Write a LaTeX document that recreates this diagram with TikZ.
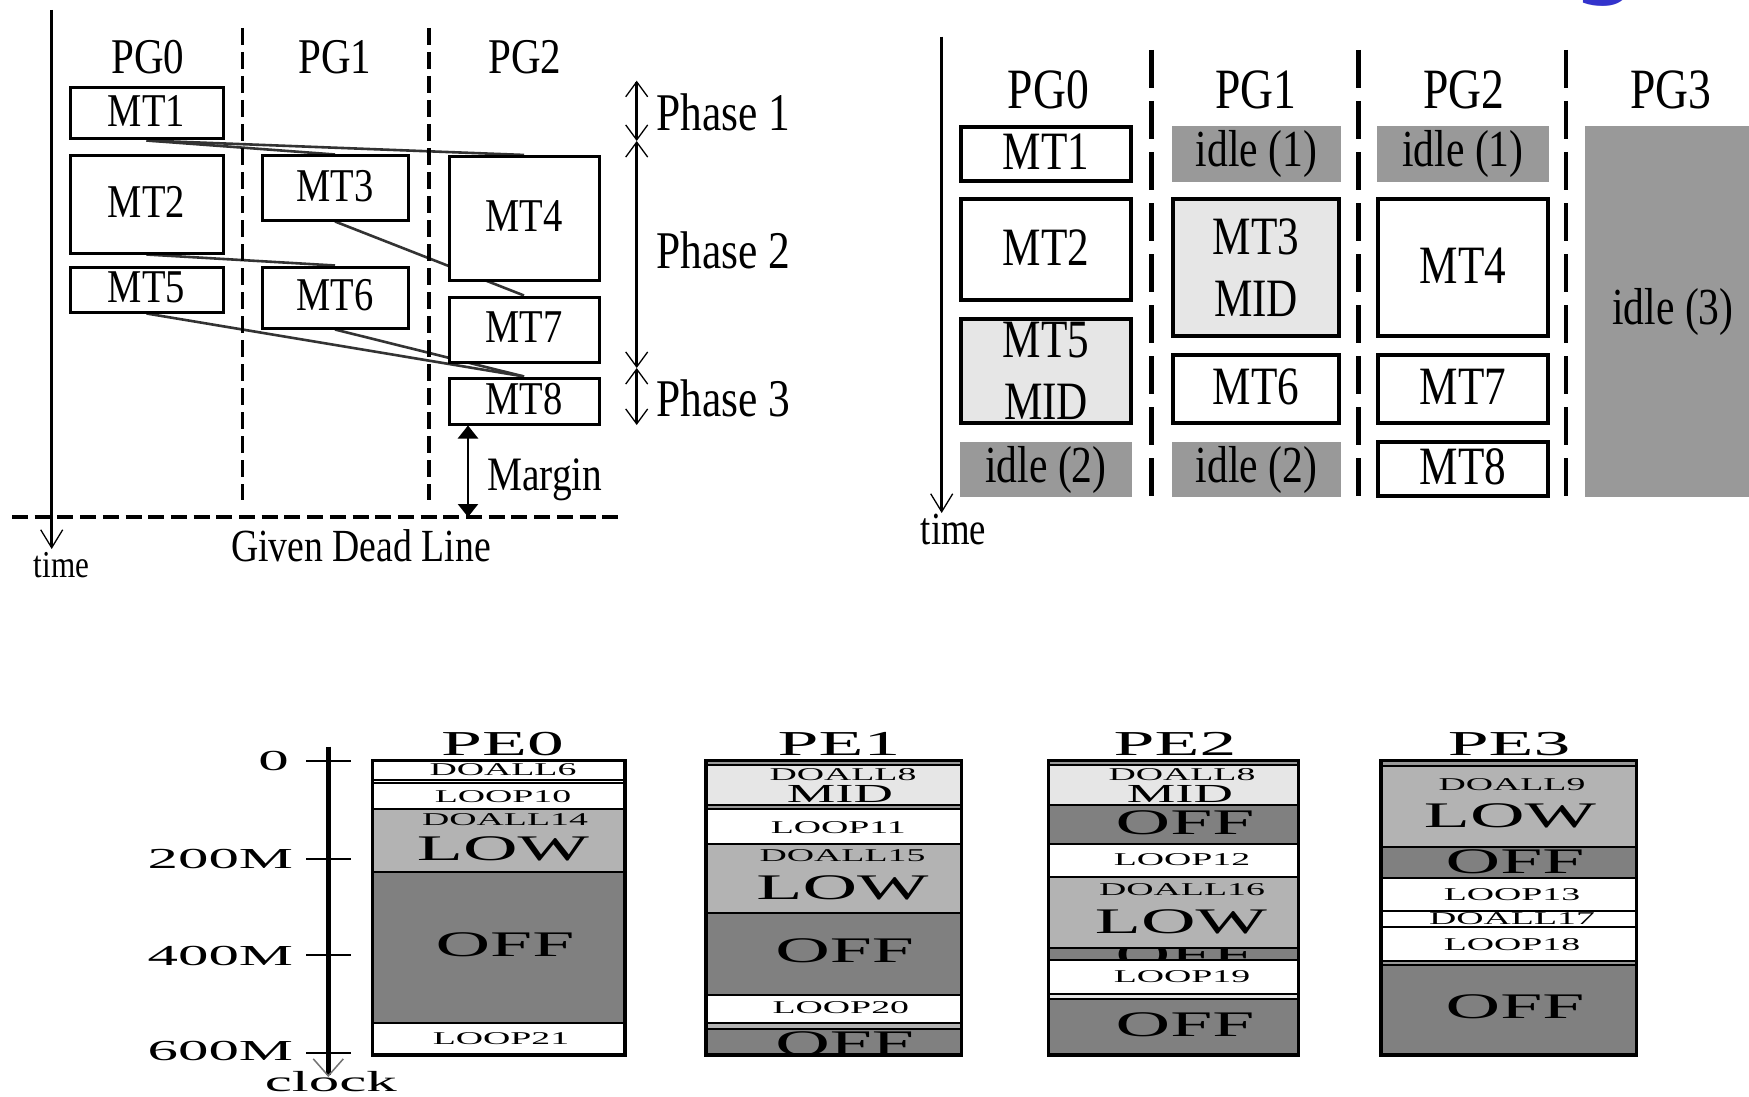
\documentclass[tikz,border=0pt]{standalone}
\usepackage{fontspec}
\setmainfont{Liberation Serif}
\newfontfamily\tlf[FakeStretch=0.82]{Liberation Serif}
\newfontfamily\trf[FakeStretch=0.80]{Liberation Serif}
\newfontfamily\btf[FakeStretch=2.1]{Liberation Serif}
\newfontfamily\gsf{DejaVu Sans}
\usetikzlibrary{arrows.meta,backgrounds}
\definecolor{midc}{HTML}{E6E6E6}
\definecolor{lowc}{HTML}{B3B3B3}
\definecolor{offc}{HTML}{808080}
\definecolor{idlec}{HTML}{999999}
\definecolor{titleblue}{HTML}{3333CC}
\pgfdeclarelayer{bottom}
\pgfsetlayers{bottom,background,main}
\tikzset{
  tlbox/.style={draw, line width=3pt, fill=white, inner sep=0pt, text depth=5pt,
    font=\tlf\fontsize{47}{52}\selectfont},
  tllab/.style={inner sep=0pt, anchor=base, font=\tlf\fontsize{50}{54}\selectfont},
  phlab/.style={inner sep=0pt, anchor=base west, font=\tlf\fontsize{53}{56}\selectfont},
  dep/.style={line width=2.6pt, draw=black!80},
  tlvdash/.style={line width=3.5pt, dash pattern=on 17pt off 7pt},
  deadline/.style={line width=4pt, dash pattern=on 16pt off 6.7pt},
  timearr/.style={line width=2.5pt, -{Straight Barb[length=18pt,width=22pt,line width=1.3pt]}},
  phasearr/.style={line width=2.5pt,
    {Straight Barb[length=15pt,width=22pt,line width=1.3pt]}-{Straight Barb[length=15pt,width=22pt,line width=1.3pt]}},
  marginarr/.style={line width=2.5pt, {Triangle[length=13pt,width=20pt]}-{Triangle[length=13pt,width=20pt]}},
  trbox/.style={draw, line width=3.5pt, fill=white, inner sep=0pt, align=center, text depth=4pt,
    font=\trf\fontsize{54}{62}\selectfont},
  tridle/.style={fill=idlec, inner sep=0pt, font=\trf\fontsize{52}{60}\selectfont},
  trlab/.style={inner sep=0pt, anchor=base, font=\trf\fontsize{57}{60}\selectfont},
  trvdash/.style={line width=4.5pt, dash pattern=on 38pt off 13pt},
  bsmall/.style={inner sep=0pt, font=\btf\fontsize{18}{20}\selectfont},
  bmid/.style={inner sep=0pt, font=\btf\fontsize{26}{28}\selectfont},
  bbig/.style={inner sep=0pt, font=\btf\fontsize{36}{40}\selectfont},
  blab/.style={inner sep=0pt, font=\btf\fontsize{29}{32}\selectfont},
  pelab/.style={inner sep=0pt, anchor=base, font=\btf\fontsize{35}{38}\selectfont},
  segline/.style={line width=2pt},
  colframe/.style={line width=3.3pt},
  clockarr/.style={line width=4.5pt, -{Straight Barb[length=17pt,width=30pt,line width=1.5pt,color=black!55]}},
}
\begin{document}
\begin{tikzpicture}[x=1pt,y=-1pt]
\useasboundingbox (0,0) rectangle (1749,1097);
\begin{pgfonlayer}{bottom}
\fill[white] (0,0) rectangle (1749,1097);
\end{pgfonlayer}

% ---------- partial title glyph ----------
\node[font=\gsf\fontsize{115}{115}\selectfont, text=titleblue, anchor=south, inner sep=0pt] (gfrag) at (1606,7) {g};

% ================= TOP LEFT =================
\coordinate (ta0) at (51.7,10);
\coordinate (ta1) at (51.7,549);
\draw[timearr] (ta0) -- (ta1);
\node[inner sep=0pt, anchor=base, font=\tlf\fontsize{38}{40}\selectfont] (timeL) at (61.5,577) {time};

\coordinate (v1a) at (242.3,28); \coordinate (v1b) at (242.3,500);
\coordinate (v2a) at (429,28);   \coordinate (v2b) at (429,500);
\draw[tlvdash] (v1a) -- (v1b);
\draw[tlvdash] (v2a) -- (v2b);

\node[tllab] (pg0L) at (148,73.3) {PG0};
\node[tllab] (pg1L) at (335,73.3) {PG1};
\node[tllab] (pg2L) at (525,73.3) {PG2};

\node[tlbox, minimum width=153pt, minimum height=51pt] (mt1) at (146.5,113.5) {MT1};
\node[tlbox, minimum width=153pt, minimum height=97pt] (mt2) at (146.5,204.5) {MT2};
\node[tlbox, minimum width=153pt, minimum height=45pt] (mt5) at (146.5,289.5) {MT5};
\node[tlbox, minimum width=146pt, minimum height=64pt] (mt3) at (335,188) {MT3};
\node[tlbox, minimum width=146pt, minimum height=61pt] (mt6) at (335,297.5) {MT6};
\node[tlbox, minimum width=150pt, minimum height=124.5pt] (mt4) at (524,218.7) {MT4};
\node[tlbox, minimum width=150pt, minimum height=65pt] (mt7) at (524,329.5) {MT7};
\node[tlbox, minimum width=150pt, minimum height=46pt] (mt8) at (524,401) {MT8};

\begin{pgfonlayer}{background}
\draw[dep] (mt1.south) -- (mt4.north);
\draw[dep] (mt1.south) -- (mt3.north);
\draw[dep] (mt3.south) -- (mt7.north);
\draw[dep] (mt2.south) -- (mt6.north);
\draw[dep] (mt5.south) -- (mt8.north);
\draw[dep] (mt6.south) -- (mt8.north);
\end{pgfonlayer}

\coordinate (ph0) at (636.7,80.7);
\coordinate (ph1) at (636.7,141);
\coordinate (ph2) at (636.7,368);
\coordinate (ph3) at (636.7,425);
\draw[phasearr] (ph0) -- (ph1);
\draw[phasearr] (ph1) -- (ph2);
\draw[phasearr] (ph2) -- (ph3);
\node[phlab] (phase1) at (656,130.7) {Phase 1};
\node[phlab] (phase2) at (656,268.3) {Phase 2};
\node[phlab] (phase3) at (656,416) {Phase 3};

\coordinate (dl0) at (12,517);
\coordinate (dl1) at (620,517);
\draw[deadline] (dl0) -- (dl1);
\coordinate (mg0) at (468,425.5);
\coordinate (mg1) at (468,517);
\draw[marginarr] (mg0) -- (mg1);
\node[inner sep=0pt, anchor=base west, font=\tlf\fontsize{48}{50}\selectfont] (margin) at (487,490) {Margin};
\node[inner sep=0pt, anchor=base, font=\tlf\fontsize{46}{50}\selectfont] (deadl) at (361,561.7) {Given Dead Line};

% ================= TOP RIGHT =================
\coordinate (tb0) at (941.7,36.7);
\coordinate (tb1) at (941.7,513);
\draw[timearr] (tb0) -- (tb1);
\node[inner sep=0pt, anchor=base, font=\trf\fontsize{46}{48}\selectfont] (timeR) at (953.5,544) {time};

\coordinate (w1a) at (1151.7,50); \coordinate (w1b) at (1151.7,500);
\coordinate (w2a) at (1358.3,50); \coordinate (w2b) at (1358.3,500);
\coordinate (w3a) at (1566,50);   \coordinate (w3b) at (1566,500);
\draw[trvdash] (w1a) -- (w1b);
\draw[trvdash] (w2a) -- (w2b);
\draw[trvdash] (w3a) -- (w3b);

\node[trlab] (pg0R) at (1048.5,108.3) {PG0};
\node[trlab] (pg1R) at (1256,108.3) {PG1};
\node[trlab] (pg2R) at (1464,108.3) {PG2};
\node[trlab] (pg3R) at (1671,108.3) {PG3};

\node[trbox, minimum width=170pt, minimum height=54pt] (rmt1) at (1046,154) {MT1};
\node[trbox, minimum width=170pt, minimum height=101pt] (rmt2) at (1046,249.5) {MT2};
\node[trbox, fill=midc, minimum width=170pt, minimum height=104pt, text depth=0pt] (rmt5) at (1046,371) {MT5\\MID};
\node[tridle, minimum width=172pt, minimum height=55pt] (ridle2a) at (1046,469.5) {idle (2)};

\node[tridle, minimum width=169pt, minimum height=56pt] (ridle1a) at (1256.5,154) {idle (1)};
\node[trbox, fill=midc, minimum width=166pt, minimum height=137pt, text depth=0pt] (rmt3) at (1256,267.5) {MT3\\MID};
\node[trbox, minimum width=166pt, minimum height=68pt] (rmt6) at (1256,389) {MT6};
\node[tridle, minimum width=169pt, minimum height=55pt] (ridle2b) at (1256.5,469.5) {idle (2)};

\node[tridle, minimum width=172pt, minimum height=56pt] (ridle1b) at (1463,154) {idle (1)};
\node[trbox, minimum width=170pt, minimum height=137pt] (rmt4) at (1463,267.5) {MT4};
\node[trbox, minimum width=170pt, minimum height=68pt] (rmt7) at (1463,389) {MT7};
\node[trbox, minimum width=170pt, minimum height=54pt] (rmt8) at (1463,469) {MT8};

\node[tridle, minimum width=176pt, minimum height=371pt] (ridle3) at (1673,311.5) {idle (3)};

% ================= BOTTOM =================
\coordinate (ck0) at (328.3,746.7);
\coordinate (ck1) at (328.3,1077);
\draw[clockarr] (ck0) -- (ck1);
\foreach \yy/\nm in {760.7/k0,858.7/k1,955/k2,1052.7/k3}{
  \coordinate (\nm a) at (306,\yy);
  \coordinate (\nm b) at (350.7,\yy);
  \draw[line width=2pt] (\nm a) -- (\nm b);
}
\node[blab, anchor=base east] (l0) at (289,770.7) {0};
\node[blab, anchor=base east] (l200) at (293.3,868.3) {200M};
\node[blab, anchor=base east] (l400) at (293.3,965) {400M};
\node[blab, anchor=base east] (l600) at (293.3,1060.5) {600M};
\node[blab, anchor=base] (clk) at (330.8,1091.7) {clock};

\node[pelab] (pe0) at (502.5,755) {PE0};
\node[pelab] (pe1) at (839,755) {PE1};
\node[pelab] (pe2) at (1175,755) {PE2};
\node[pelab] (pe3) at (1509,755) {PE3};

% ---- PE0 (372.7 - 625)
\fill[lowc] (372.7,809.3) rectangle (625,871.7);
\fill[offc] (372.7,871.7) rectangle (625,1022.7);
\node[bsmall] (p0a) at (503,770) {DOALL6};
\node[bsmall] (p0b) at (503,796.2) {LOOP10};
\node[bsmall] (p0c) at (505,819.7) {DOALL14};
\node[bbig] (p0d) at (503,849) {LOW};
\node[bbig] (p0e) at (505,945) {OFF};
\node[bsmall] (p0f) at (501,1039) {LOOP21};
\foreach \yy in {780,783,809.3,871.7,1022.7}{\draw[segline] (372.7,\yy) -- (625,\yy);}
\draw[colframe] (372.7,760.7) rectangle (625,1055);

% ---- PE1 (706 - 961.7)
\fill[idlec] (706,760.7) rectangle (961.7,765);
\fill[midc] (706,765) rectangle (961.7,805);
\fill[idlec] (706,805) rectangle (961.7,809.3);
\fill[lowc] (706,844) rectangle (961.7,913.3);
\fill[offc] (706,913.3) rectangle (961.7,995);
\fill[lowc] (706,1022.7) rectangle (961.7,1029.3);
\fill[offc] (706,1029.3) rectangle (961.7,1055);
\node[bsmall] (p1a) at (843,774.5) {DOALL8};
\node[bmid] (p1b) at (840,794) {MID};
\node[bsmall] (p1c) at (838.3,827.3) {LOOP11};
\node[bsmall] (p1d) at (842.5,856) {DOALL15};
\node[bbig] (p1e) at (842.5,887.5) {LOW};
\node[bbig] (p1f) at (844.7,951) {OFF};
\node[bsmall] (p1g) at (840.8,1008) {LOOP20};
\begin{scope}
\clip (706,1029.3) rectangle (961.7,1055);
\node[bbig] (p1h) at (844.7,1044) {OFF};
\end{scope}
\foreach \yy in {765,805,809.3,844,913.3,995,1022.7,1029.3}{\draw[segline] (706,\yy) -- (961.7,\yy);}
\draw[colframe] (706,760.7) rectangle (961.7,1055);

% ---- PE2 (1048.3 - 1298.3)
\fill[idlec] (1048.3,760.7) rectangle (1298.3,765);
\fill[midc] (1048.3,765) rectangle (1298.3,805);
\fill[offc] (1048.3,805) rectangle (1298.3,844);
\fill[lowc] (1048.3,877.3) rectangle (1298.3,948.3);
\fill[offc] (1048.3,948.3) rectangle (1298.3,960);
\fill[midc] (1048.3,994) rectangle (1298.3,999.3);
\fill[offc] (1048.3,999.3) rectangle (1298.3,1055);
\node[bsmall] (p2a) at (1182,774.5) {DOALL8};
\node[bmid] (p2b) at (1180,794.5) {MID};
\node[bbig] (p2c) at (1185,823) {OFF};
\node[bsmall] (p2d) at (1182,859.5) {LOOP12};
\node[bsmall] (p2e) at (1182,890) {DOALL16};
\node[bbig] (p2f) at (1181,921.5) {LOW};
\begin{scope}
\clip (1048.3,948.3) rectangle (1298.3,960);
\node[bbig] (p2g) at (1185,955) {OFF};
\end{scope}
\node[bsmall] (p2h) at (1182,976.7) {LOOP19};
\node[bbig] (p2i) at (1185,1025) {OFF};
\foreach \yy in {765,805,844,877.3,948.3,960,994,999.3}{\draw[segline] (1048.3,\yy) -- (1298.3,\yy);}
\draw[colframe] (1048.3,760.7) rectangle (1298.3,1055);

% ---- PE3 (1381 - 1636.7)
\fill[idlec] (1381,760.7) rectangle (1636.7,765.7);
\fill[lowc] (1381,765.7) rectangle (1636.7,846.7);
\fill[offc] (1381,846.7) rectangle (1636.7,877.7);
\fill[idlec] (1381,961) rectangle (1636.7,965);
\fill[offc] (1381,965) rectangle (1636.7,1055);
\node[bsmall] (p3a) at (1512,785) {DOALL9};
\node[bbig] (p3b) at (1510,815.5) {LOW};
\node[bbig] (p3c) at (1515,861.7) {OFF};
\node[bsmall] (p3d) at (1512,895) {LOOP13};
\begin{scope}
\clip (1381,911) rectangle (1636.7,926.7);
\node[bsmall] (p3e) at (1512,918.3) {DOALL17};
\end{scope}
\node[bsmall] (p3f) at (1512,945) {LOOP18};
\node[bbig] (p3g) at (1515,1006.7) {OFF};
\foreach \yy in {765.7,846.7,877.7,911,926.7,961,965}{\draw[segline] (1381,\yy) -- (1636.7,\yy);}
\draw[colframe] (1381,760.7) rectangle (1636.7,1055);

\end{tikzpicture}
\end{document}
